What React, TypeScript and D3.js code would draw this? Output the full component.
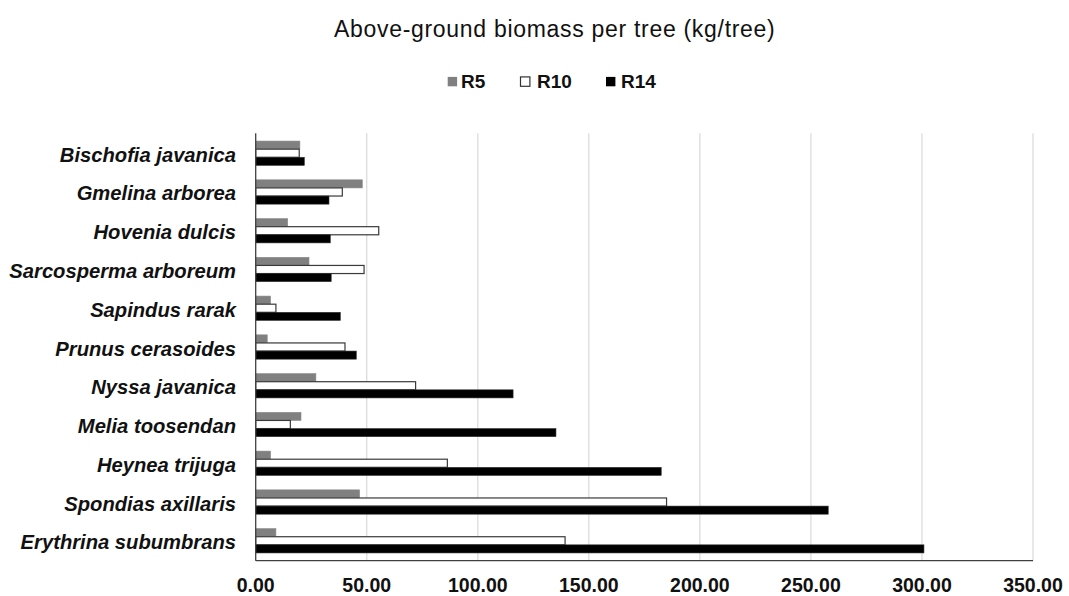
import React from "react";
import * as d3 from "d3";

const categories = [
  "Bischofia javanica",
  "Gmelina arborea",
  "Hovenia dulcis",
  "Sarcosperma arboreum",
  "Sapindus rarak",
  "Prunus cerasoides",
  "Nyssa javanica",
  "Melia toosendan",
  "Heynea trijuga",
  "Spondias axillaris",
  "Erythrina subumbrans",
];

const seriesNames = ["R5", "R10", "R14"];

const r5 = [19.9, 48.0, 14.4, 24.0, 6.7, 5.2, 27.1, 20.4, 6.7, 46.8, 9.1];
const r10 = [19.6, 39.0, 55.4, 48.8, 9.1, 40.2, 72.0, 15.6, 86.3, 185.0, 139.3];
const r14 = [21.9, 33.0, 33.6, 34.0, 38.1, 45.3, 115.9, 135.2, 182.6, 257.8, 300.9];

const xTicks = [0, 50, 100, 150, 200, 250, 300, 350];

const title = "Above-ground biomass per tree (kg/tree)";

const W = 1069;
const H = 596;
const FONT = "'Liberation Sans', Arial, sans-serif";

const seriesStyle: Record<string, { fill: string; stroke: string; sw: number }> = {
  R5: { fill: "#808080", stroke: "#8a8a8a", sw: 0.6 },
  R10: { fill: "#ffffff", stroke: "#3a3a3a", sw: 1.2 },
  R14: { fill: "#000000", stroke: "#333333", sw: 0.6 },
};

export default function App() {
  const left = 255.7;
  const right = 1033;
  const top = 133.3;
  const bottom = 560.7;

  const x = d3.scaleLinear().domain([0, 350]).range([left, right]);
  const y = d3
    .scaleBand<string>()
    .domain(categories)
    .range([top, bottom])
    .paddingInner(0.372)
    .paddingOuter(0.2);
  const ys = d3.scaleBand<string>().domain(seriesNames).range([0, y.bandwidth()]);

  const values: Record<string, number[]> = { R5: r5, R10: r10, R14: r14 };

  const legendItems = [
    { name: "R5", sq: 447.7, tx: 461 },
    { name: "R10", sq: 520.5, tx: 537 },
    { name: "R14", sq: 606, tx: 621 },
  ];

  return (
    <svg
      width={W}
      height={H}
      style={{ position: "absolute", left: 0, top: 0, display: "block", background: "#fff" }}
      fontFamily={FONT}
    >
      <rect x={0} y={0} width={W} height={H} fill="#ffffff" />
      <text
        x={554.7}
        y={36.5}
        textAnchor="middle"
        fontSize={23}
        letterSpacing={0.7}
        fill="#111"
      >
        {title}
      </text>

      {legendItems.map((it) => {
        const st = seriesStyle[it.name];
        return (
          <g key={it.name}>
            <rect
              x={it.sq}
              y={76.9}
              width={9.4}
              height={9.4}
              fill={st.fill}
              stroke={it.name === "R10" ? "#333" : st.fill}
              strokeWidth={it.name === "R10" ? 1.2 : 0}
            />
            <text x={it.tx} y={88.3} fontSize={19} fontWeight="bold" fill="#111">
              {it.name}
            </text>
          </g>
        );
      })}

      {xTicks.slice(1).map((t) => (
        <line
          key={"g" + t}
          x1={x(t)}
          x2={x(t)}
          y1={top}
          y2={bottom}
          stroke="#d9d9d9"
          strokeWidth={1.2}
        />
      ))}

      {categories.map((c, i) => (
        <g key={c}>
          {seriesNames.map((s) => {
            const st = seriesStyle[s];
            const v = values[s][i];
            return (
              <rect
                key={s}
                x={x(0)}
                y={(y(c) as number) + (ys(s) as number)}
                width={x(v) - x(0)}
                height={ys.bandwidth()}
                fill={st.fill}
                stroke={st.stroke}
                strokeWidth={st.sw}
              />
            );
          })}
          <text
            x={236}
            y={(y(c) as number) + y.bandwidth() / 2 + 8.5}
            textAnchor="end"
            fontSize={20.2}
            fontWeight="bold"
            fontStyle="italic"
            fill="#111"
          >
            {c}
          </text>
        </g>
      ))}

      <line x1={left} x2={left} y1={top} y2={bottom} stroke="#404040" strokeWidth={1.3} />
      <line x1={left} x2={right} y1={bottom} y2={bottom} stroke="#404040" strokeWidth={1.3} />

      {xTicks.map((t) => (
        <text
          key={"t" + t}
          x={x(t)}
          y={592}
          textAnchor="middle"
          fontSize={19.5}
          fontWeight="bold"
          fill="#111"
        >
          {t.toFixed(2)}
        </text>
      ))}
    </svg>
  );
}
